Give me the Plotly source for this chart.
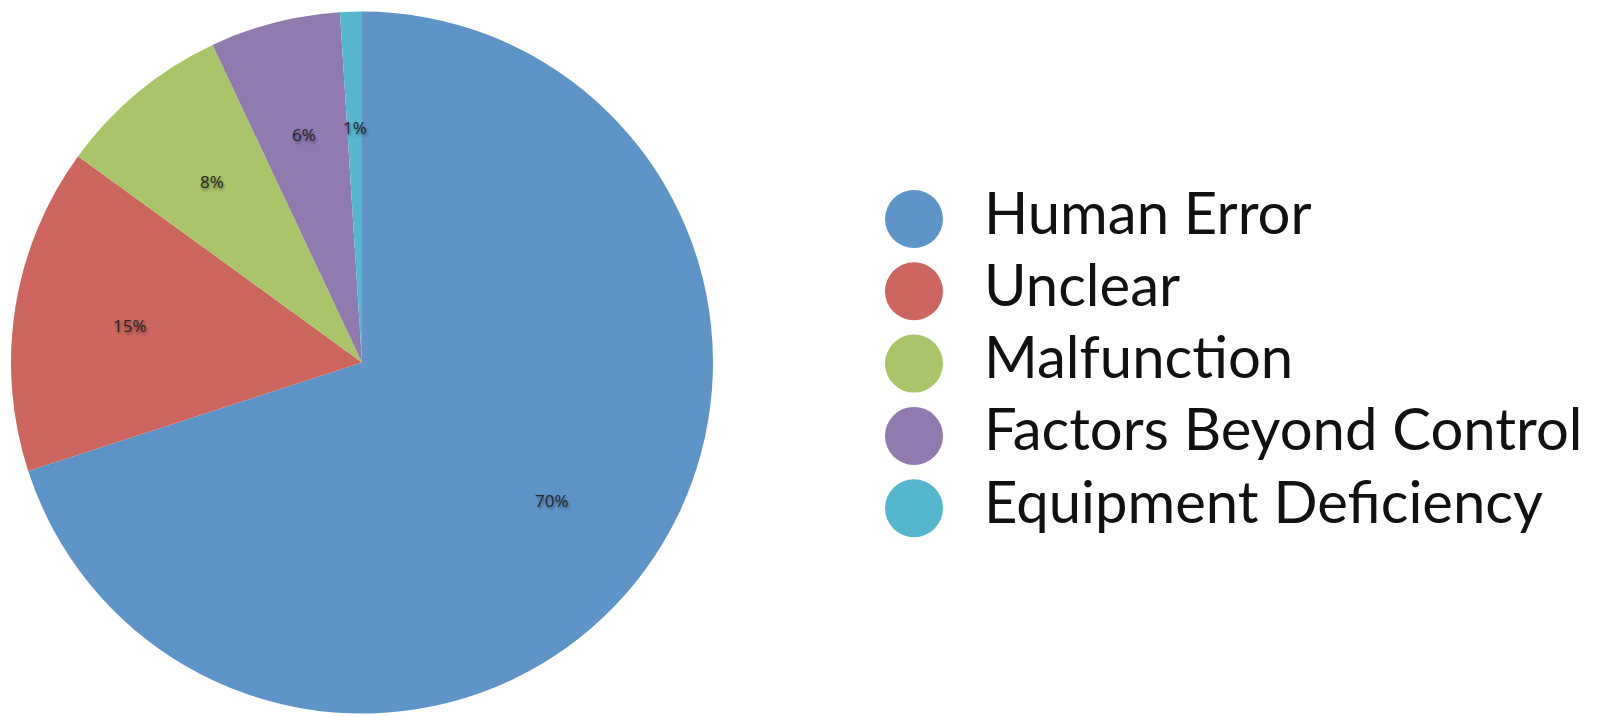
import numpy as np
import plotly.graph_objects as go

# ---- data ----
categories = ["Human Error", "Unclear", "Malfunction", "Factors Beyond Control", "Equipment Deficiency"]
values = [70, 15, 8, 6, 1]
colors = ["#5F94C8", "#CD665E", "#AAC46A", "#917AB0", "#54B7CE"]

# ---- layout constants (pixels) ----
W, H = 1605, 717
cx, cy, R = 362, 362.5, 351          # pie centre / radius
label_frac = 0.67                    # radial position of % labels
leg_x0, leg_dx = 914, 70             # legend marker centre, text offset
leg_y0, leg_dy = 219, 72.3           # first legend row, row spacing

fig = go.Figure()

fig.add_trace(go.Pie(
    labels=categories, values=values, sort=False, direction="clockwise", rotation=0,
    marker=dict(colors=colors, line=dict(width=0)),
    textinfo="none", showlegend=False, hoverinfo="label+percent",
    domain=dict(x=[(cx - R) / W, (cx + R) / W], y=[(H - cy - R) / H, (H - cy + R) / H]),
))

# percentage labels, positioned from the data (mid-angle of each slice)
vals = np.array(values, dtype=float)
cum = np.cumsum(vals) / vals.sum()
mid = (cum - vals / vals.sum() / 2) * 2 * np.pi
for v, a in zip(vals, mid):
    px = cx + label_frac * R * np.sin(a)
    py = cy - label_frac * R * np.cos(a)
    fig.add_annotation(
        x=px / W, y=1 - py / H, xref="paper", yref="paper", showarrow=False,
        text=f"{v / vals.sum() * 100:.0f}%",
        font=dict(family="Open Sans", size=17, color="#262626",
                  shadow="1px 2px 3px rgba(0,0,0,0.45)"),
        xanchor="center", yanchor="middle",
    )

# legend drawn as scatter markers + text (large circular keys)
idx = list(range(len(categories)))
fig.add_trace(go.Scatter(
    x=[0] * len(idx), y=idx, mode="markers",
    marker=dict(size=58, color=colors, line=dict(width=0)),
    showlegend=False, hoverinfo="skip",
))
fig.add_trace(go.Scatter(
    x=[1] * len(idx), y=idx, mode="text", text=categories,
    textposition="middle right",
    textfont=dict(family="Lato", size=58, color="#111111"),
    showlegend=False, hoverinfo="skip",
))

r0 = -leg_x0 / leg_dx
fig.update_xaxes(visible=False, range=[r0, r0 + W / leg_dx], domain=[0, 1], fixedrange=True)
t0 = -leg_y0 / leg_dy
fig.update_yaxes(visible=False, range=[t0 + H / leg_dy, t0], domain=[0, 1], fixedrange=True)

fig.update_layout(
    width=W, height=H, margin=dict(l=0, r=0, t=0, b=0),
    paper_bgcolor="white", plot_bgcolor="rgba(0,0,0,0)",
)

fig.write_html("out.html")
